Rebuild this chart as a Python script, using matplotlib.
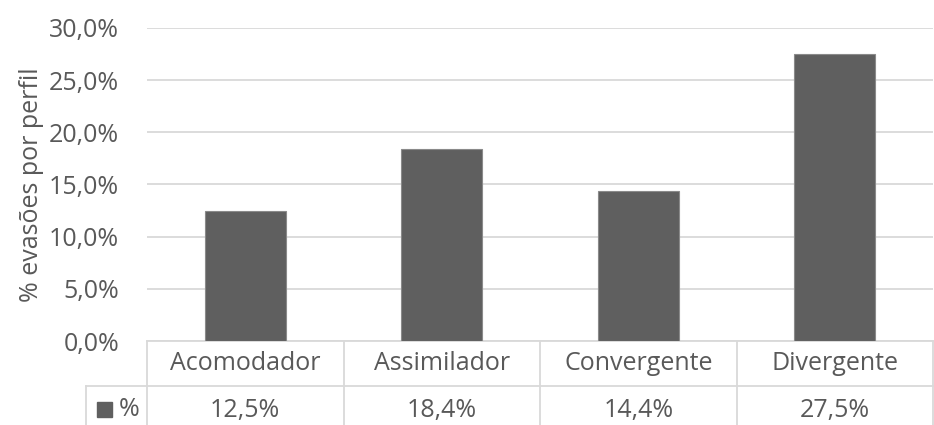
import matplotlib
matplotlib.use("Agg")
import matplotlib.pyplot as plt
from matplotlib.transforms import blended_transform_factory
from matplotlib.patches import Rectangle

# data
categories = ["Acomodador", "Assimilador", "Convergente", "Divergente"]
values = [0.125, 0.184, 0.144, 0.275]
value_labels = ["12,5%", "18,4%", "14,4%", "27,5%"]
series_name = "%"
yticks = [0.0, 0.05, 0.10, 0.15, 0.20, 0.25, 0.30]
ytick_labels = ["0,0%", "5,0%", "10,0%", "15,0%", "20,0%", "25,0%", "30,0%"]

bar_color = "#5f5f5f"
text_color = "#595959"
grid_color = "#d9d9d9"
fs = 18

plt.rcParams["font.family"] = ["Open Sans", "DejaVu Sans"]

W, H = 934, 425
fig = plt.figure(figsize=(W / 100, H / 100), dpi=100)
ax = fig.add_axes([147 / W, (H - 341) / H, (933 - 147) / W, (341 - 28) / H])

x = list(range(len(categories)))
ax.bar(x, values, width=0.41, color=bar_color, edgecolor="#8a8a8a", linewidth=0.8, zorder=3)

ax.set_xlim(-0.5, len(categories) - 0.5)
ax.set_ylim(0, 0.30)
ax.set_yticks(yticks)
ax.set_yticklabels(ytick_labels, fontsize=fs, color=text_color)
ax.tick_params(axis="y", length=0, pad=20)
ax.set_xticks([])
ax.grid(axis="y", color=grid_color, linewidth=1.3, zorder=0)
for s in ax.spines.values():
    s.set_visible(False)
ax.set_ylabel("% evasões por perfil", fontsize=fs, color=text_color, labelpad=4)

# data table below the axis
ph = 341 - 28
tr = blended_transform_factory(ax.transData, ax.transAxes)
row1 = -(386 - 341) / ph
row2 = -(430 - 341) / ph
left2 = -0.5 - (147 - 86) / ((933 - 147) / 4)
lkw = dict(color=grid_color, linewidth=1.3, transform=tr, clip_on=False)
ax.plot([-0.5, 3.5], [0, 0], **lkw)
ax.plot([left2, 3.5], [row1, row1], **lkw)
for i in range(len(categories) + 1):
    ax.plot([i - 0.5, i - 0.5], [0, row2], **lkw)
ax.plot([left2, left2], [row1, row2], **lkw)

for i, (c, v) in enumerate(zip(categories, value_labels)):
    ax.text(i, -(364 - 341) / ph, c, transform=tr, ha="center", va="center",
            fontsize=fs, color=text_color)
    ax.text(i, -(410 - 341) / ph, v, transform=tr, ha="center", va="center",
            fontsize=fs, color=text_color)

# legend key in the table
fig.patches.append(Rectangle((97 / W, (H - 417) / H), 15 / W, 15 / H,
                             transform=fig.transFigure, color=bar_color))
fig.text(119 / W, (H - 410) / H, series_name, ha="left", va="center",
         fontsize=fs, color=text_color)

fig.savefig("out.png", dpi=100)
